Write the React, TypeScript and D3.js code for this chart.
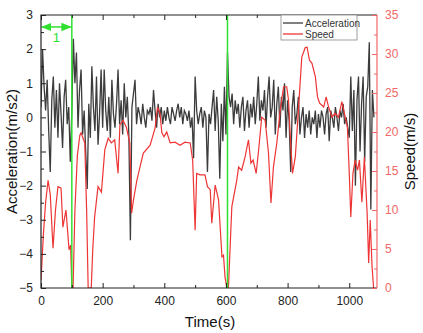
import React, { useEffect, useRef } from 'react';
import * as d3 from 'd3';

// acceleration sampled every 5 s, starting at t = 0
const accelStep = 5;
const acceleration = [
  0.3, 2.0, 0.9, 0.2, 1.1, -0.4, -1.6, 0.5, 1.2, -0.3,
  0.8, -0.6, 1.0, 0.1, -0.9, 0.6, 1.1, -0.2, 0.3, -1.3,
  0.2, 2.3, 1.0, 1.9, -0.3, 0.8, 1.4, -0.5, 0.2, -1.0,
  -2.1, 0.4, -0.6, 1.5, 0.3, -0.4, 1.2, -0.8, 0.1, 1.4,
  -0.3, 1.4, 0.2, -0.4, 0.6, -0.6, 1.1, 0.1, -0.3, 0.4,
  1.4, -0.2, 0.5, -0.5, 1.0, 0.0, 0.6, -0.5, -3.6, 0.3,
  0.7, 1.1, -0.2, 0.3, 0.1, -0.2, 0.4, 0.0, -0.3, 0.2,
  0.1, 0.3, -0.1, 0.8, 0.2, -0.3, 0.4, 0.0, 0.3, -0.2,
  0.2, -0.1, 0.3, 0.0, -0.2, 0.3, 0.1, -0.1, 0.2, 0.4,
  0.0, 0.3, -0.2, 0.2, 0.1, -0.1, 0.2, -0.3, 0.0, -1.2,
  1.2, 0.2, -0.2, 0.1, 0.3, -0.3, 0.2, 0.0, -1.6, 0.1,
  -0.2, 0.3, 0.8, -0.4, 0.6, -0.1, -1.8, 0.4, -0.7, 0.9,
  -0.5, 1.9, 0.6, 0.3, 0.7, -0.2, 0.5, 0.1, 0.4, -0.3,
  0.3, 0.6, -0.4, 0.2, 0.5, -0.3, 0.4, 0.0, 0.6, -0.2,
  0.4, 1.2, -0.1, 0.5, 0.2, 0.8, -0.3, 0.6, 1.2, 0.0,
  0.3, 1.1, -0.5, 0.4, 0.9, -0.3, 0.6, 0.2, 1.0, -0.6,
  0.5, -0.1, -1.6, 0.3, 0.8, -0.2, 0.1, 0.6, -0.5, 0.0,
  0.3, -0.6, 0.1, -0.3, 0.2, -0.5, 0.0, -0.2, 0.2, -0.6,
  0.1, -0.3, 0.2, 0.0, -0.5, 0.1, 0.3, -0.7, 0.2, 0.0,
  -0.3, 0.3, 0.0, -0.4, 0.2, 0.0, 0.4, -0.2, 0.0, -0.3,
  -0.6, 1.2, -0.4, 0.8, -2.0, 0.5, 1.2, -1.0, 0.4, 1.2,
  -1.3, 0.6, 0.9, 2.2, -2.7, 0.8, 0.0,
];

// speed as [time (s), speed (m/s)]
const speed: [number, number][] = [
  [0, 1], [8, 7], [15, 11], [23, 13.8], [30, 12], [39, 5.1], [47, 10], [55, 13],
  [65, 12.8], [71, 7.8], [81, 10], [91, 4.9], [96, 5.5], [100, 0], [104, 0],
  [110, 10], [118, 17], [126, 19.6], [130, 19.9], [142, 18.6], [148, 10], [153, 0],
  [163, 0], [168, 5], [174, 9.1], [185, 13], [196, 12.3], [207, 17.7], [218, 19.2],
  [228, 18.6], [239, 19], [250, 14.7], [256, 20.9], [266, 21.5], [277, 20.6],
  [288, 18.6], [294, 9.6], [300, 11.3], [311, 13.8], [321, 15.5], [332, 17.3],
  [354, 18.3], [370, 20.5], [378, 23.2], [386, 22.4], [392, 19.9], [399, 19.4],
  [408, 20], [419, 18.6], [435, 18.7], [451, 18.3], [467, 18.7], [484, 18.6],
  [492, 16.4], [500, 7.4], [505, 14.7], [516, 14.5], [532, 14.5], [540, 13],
  [549, 12.6], [554, 8.3], [565, 13.2], [576, 11.3], [587, 4], [592, 4.2],
  [597, 1.4], [603, 0], [608, 0], [619, 10.4], [635, 13.8], [641, 15.5],
  [651, 15.1], [662, 16.8], [673, 19], [681, 16], [688, 16.4], [698, 14.7],
  [706, 17.7], [716, 21.9], [727, 21.5], [738, 17.3], [746, 10.9], [754, 15.5],
  [765, 18.6], [776, 22.8], [787, 25.8], [797, 25.8], [803, 24.1], [808, 19.9],
  [816, 14.7], [825, 16.8], [835, 22.8], [846, 29.6], [857, 30.8], [863, 30.9],
  [871, 29.2], [879, 28.8], [890, 27.1], [897, 24.5], [904, 23.7], [917, 23.2],
  [925, 24.5], [933, 23.2], [944, 21.9], [954, 22.4], [965, 21.9], [976, 23.9],
  [987, 21.9], [994, 20.6], [1000, 14.7], [1005, 9.1], [1012, 14.7], [1019, 16.4],
  [1027, 15.1], [1033, 16.4], [1041, 11], [1049, 16.8], [1058, 9.6], [1063, 3.2],
  [1068, 8.7], [1074, 2.7], [1079, 0],
];

const markers = [100, 605];
const timeTicks = [0, 200, 400, 600, 800, 1000];
const accelTicks = [-5, -4, -3, -2, -1, 0, 1, 2, 3];
const speedTicks = [0, 5, 10, 15, 20, 25, 30, 35];
const legendItems = ['Acceleration', 'Speed'];

const W = 423;
const H = 333;
const font = '"Liberation Sans", Arial, sans-serif';
const black = '#3c3c3c';
const red = '#ee3535';
const axisRed = '#f06868';
const green = '#30e030';

export default function App() {
  const ref = useRef<SVGSVGElement>(null);

  useEffect(() => {
    const svg = d3.select(ref.current);
    svg.selectAll('*').remove();

    const left = 41, right = 377, top = 15, bottom = 288;
    const x = d3.scaleLinear().domain([0, 1090]).range([left, right]);
    const yA = d3.scaleLinear().domain([-5, 3]).range([bottom, top]);
    const yS = d3.scaleLinear().domain([0, 35]).range([bottom, top]);

    const defs = svg.append('defs');
    defs.append('clipPath').attr('id', 'plot')
      .append('rect').attr('x', left).attr('y', top).attr('width', right - left).attr('height', bottom - top);

    const plot = svg.append('g').attr('clip-path', 'url(#plot)');

    const accLine = d3.line<number>()
      .x((_, i) => x(i * accelStep))
      .y(d => yA(d));
    plot.append('path').attr('d', accLine(acceleration))
      .attr('fill', 'none').attr('stroke', black).attr('stroke-width', 1.3);

    const spLine = d3.line<[number, number]>()
      .x(d => x(d[0]))
      .y(d => yS(d[1]));
    plot.append('path').attr('d', spLine(speed))
      .attr('fill', 'none').attr('stroke', red).attr('stroke-width', 1.2);

    // green markers
    svg.selectAll('line.mark').data(markers).join('line')
      .attr('x1', d => x(d)).attr('x2', d => x(d))
      .attr('y1', top).attr('y2', bottom)
      .attr('stroke', green).attr('stroke-width', 1.5);

    defs.append('marker').attr('id', 'ah').attr('viewBox', '0 0 10 10')
      .attr('refX', 9).attr('refY', 5).attr('markerWidth', 7).attr('markerHeight', 7)
      .attr('orient', 'auto-start-reverse')
      .append('path').attr('d', 'M0,1 L10,5 L0,9 Z').attr('fill', green);
    svg.append('line')
      .attr('x1', x(0) + 1).attr('x2', x(markers[0]) - 1)
      .attr('y1', yA(2.65)).attr('y2', yA(2.65))
      .attr('stroke', green).attr('stroke-width', 1.5)
      .attr('marker-start', 'url(#ah)').attr('marker-end', 'url(#ah)');
    svg.append('text').attr('x', x(markers[0] / 2)).attr('y', 42)
      .attr('text-anchor', 'middle').attr('fill', green)
      .attr('font-family', font).attr('font-size', 13).text('1');

    // frame
    svg.append('path').attr('d', `M${right},${top}H${left}V${bottom}H${right}`)
      .attr('fill', 'none').attr('stroke', '#222').attr('stroke-width', 1.2);
    svg.append('line').attr('x1', right).attr('x2', right).attr('y1', top).attr('y2', bottom)
      .attr('stroke', axisRed).attr('stroke-width', 1.2);

    const styleAxis = (g: any, color: string) => {
      g.select('.domain').remove();
      g.selectAll('line').attr('stroke', color).attr('stroke-width', 1);
      g.selectAll('text').attr('fill', color).attr('font-family', font).attr('font-size', 12);
    };

    const minorTime = d3.range(100, 1090, 200);
    // bottom
    svg.append('g').attr('transform', `translate(0,${bottom})`)
      .call(d3.axisBottom(x).tickValues(timeTicks).tickSize(-5).tickPadding(8).tickFormat(d3.format('d')))
      .call(g => styleAxis(g, '#222'));
    svg.append('g').attr('transform', `translate(0,${bottom})`)
      .call(d3.axisBottom(x).tickValues(minorTime).tickSize(-3).tickFormat(() => ''))
      .call(g => styleAxis(g, '#222'));
    // top
    svg.append('g').attr('transform', `translate(0,${top})`)
      .call(d3.axisTop(x).tickValues(timeTicks).tickSize(-5).tickFormat(() => ''))
      .call(g => styleAxis(g, '#222'));
    svg.append('g').attr('transform', `translate(0,${top})`)
      .call(d3.axisTop(x).tickValues(minorTime).tickSize(-3).tickFormat(() => ''))
      .call(g => styleAxis(g, '#222'));
    // left
    svg.append('g').attr('transform', `translate(${left},0)`)
      .call(d3.axisLeft(yA).tickValues(accelTicks).tickSize(-5).tickPadding(8))
      .call(g => styleAxis(g, '#222'));
    svg.append('g').attr('transform', `translate(${left},0)`)
      .call(d3.axisLeft(yA).tickValues(d3.range(-4.5, 3, 1)).tickSize(-3).tickFormat(() => ''))
      .call(g => styleAxis(g, '#222'));
    // right
    svg.append('g').attr('transform', `translate(${right},0)`)
      .call(d3.axisRight(yS).tickValues(speedTicks).tickSize(-5).tickPadding(8))
      .call(g => styleAxis(g, axisRed));
    svg.append('g').attr('transform', `translate(${right},0)`)
      .call(d3.axisRight(yS).tickValues(d3.range(2.5, 35, 5)).tickSize(-3).tickFormat(() => ''))
      .call(g => styleAxis(g, axisRed));

    // titles
    svg.append('text').attr('transform', `translate(17,${(top + bottom) / 2}) rotate(-90)`)
      .attr('text-anchor', 'middle').attr('font-family', font).attr('font-size', 15)
      .attr('fill', '#111').text('Acceleration(m/s2)');
    svg.append('text').attr('transform', `translate(415,${(top + bottom) / 2}) rotate(-90)`)
      .attr('text-anchor', 'middle').attr('font-family', font).attr('font-size', 15)
      .attr('fill', '#111').text('Speed(m/s)');
    svg.append('text').attr('x', 210).attr('y', 327)
      .attr('text-anchor', 'middle').attr('font-family', font).attr('font-size', 15)
      .attr('fill', '#111').text('Time(s)');

    // legend
    const lg = svg.append('g').attr('transform', 'translate(281,15)');
    lg.append('rect').attr('width', 76).attr('height', 25)
      .attr('fill', 'white').attr('stroke', '#888').attr('stroke-width', 0.8);
    legendItems.forEach((name, i) => {
      const yy = 8 + i * 11;
      lg.append('line').attr('x1', 2).attr('x2', 22).attr('y1', yy).attr('y2', yy)
        .attr('stroke', i === 0 ? black : red).attr('stroke-width', 1.3);
      lg.append('text').attr('x', 24).attr('y', yy + 3.5)
        .attr('font-family', font).attr('font-size', 10).attr('fill', '#333').text(name);
    });
  }, []);

  return (
    <svg ref={ref} width={W} height={H}
      style={{ position: 'absolute', left: 0, top: 0, background: 'white' }} />
  );
}
